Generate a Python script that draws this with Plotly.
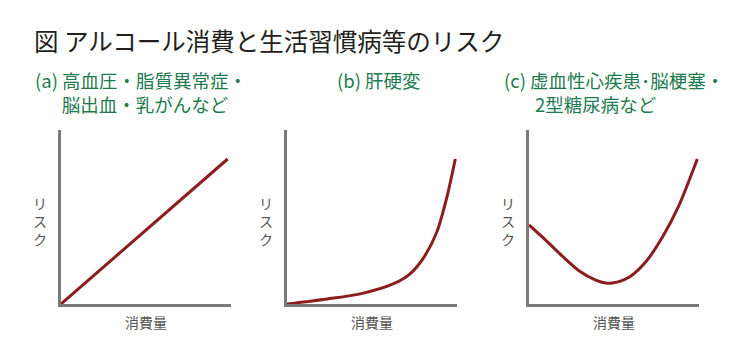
import plotly.graph_objects as go

W, H = 752, 362

# ---- data (arbitrary units) ----
consumption_a = [0, 10]
risk_a = [0, 10]

consumption_b = [0, 2.4, 4.4, 6.4, 7.4, 8.2, 9.0, 9.6, 10.1]
risk_b = [0, 0.35, 0.7, 1.4, 2.1, 3.2, 5.0, 7.4, 10.0]

consumption_c = [0, 1, 2, 3, 4, 4.6, 5, 6, 7, 8, 9, 10, 10.1]
risk_c = [5.45, 4.4, 3.3, 2.3, 1.65, 1.45, 1.45, 1.85, 2.9, 4.6, 6.8, 9.7, 10.0]

main_title = "図 アルコール消費と生活習慣病等のリスク"
sub_a = ["(a) 高血圧・脂質異常症・", "脳出血・乳がんなど"]
sub_b = ["(b) 肝硬変"]
sub_c = ["(c) 虚血性心疾患･脳梗塞・", "2型糖尿病など"]
x_label = "消費量"
y_label = "リスク"

# ---- style ----
FONT = "Noto Sans CJK JP"
LINE_COLOR = "#8b1d1d"
AXIS_COLOR = "#7a7a7a"
GREEN = "#1e7b4f"
GRAY_TXT = "#555555"

def px_x(p):
    return p / W

def px_y(p):
    return (H - p) / H

panels = [
    (consumption_a, risk_a, 61, 231),
    (consumption_b, risk_b, 287, 457),
    (consumption_c, risk_c, 529, 699),
]
y_top, y_bot = 130, 304

fig = go.Figure()
layout = dict(
    width=W, height=H,
    margin=dict(l=0, r=0, t=0, b=0),
    paper_bgcolor="white", plot_bgcolor="white",
    showlegend=False,
    font=dict(family=FONT),
)
annotations = []
for i, (xs, ys, x0, x1) in enumerate(panels):
    sfx = "" if i == 0 else str(i + 1)
    fig.add_trace(go.Scatter(
        x=xs, y=ys, mode="lines",
        line=dict(color=LINE_COLOR, width=3, shape="spline", smoothing=0.8),
        xaxis="x" + sfx, yaxis="y" + sfx, hoverinfo="skip",
    ))
    layout["xaxis" + sfx] = dict(
        domain=[px_x(x0), px_x(x1)], range=[0, 10.2],
        showline=True, linecolor=AXIS_COLOR, linewidth=2.5,
        showgrid=False, zeroline=False, showticklabels=False, ticks="",
        anchor="y" + sfx, fixedrange=True,
    )
    layout["yaxis" + sfx] = dict(
        domain=[px_y(y_bot), px_y(y_top)], range=[0, 12],
        showline=True, linecolor=AXIS_COLOR, linewidth=2.5,
        showgrid=False, zeroline=False, showticklabels=False, ticks="",
        anchor="x" + sfx, fixedrange=True,
    )
    annotations.append(dict(
        text=x_label, x=px_x((x0 + x1) / 2), y=px_y(322),
        xref="paper", yref="paper", xanchor="center", yanchor="middle",
        showarrow=False, font=dict(size=14, color=GRAY_TXT, family=FONT),
    ))
    annotations.append(dict(
        text="<br>".join(list(y_label)), x=px_x(x0 - 21), y=px_y(221),
        xref="paper", yref="paper", xanchor="center", yanchor="middle",
        showarrow=False, font=dict(size=14, color=GRAY_TXT, family=FONT),
    ))

annotations.append(dict(
    text=main_title, x=px_x(32), y=px_y(41),
    xref="paper", yref="paper", xanchor="left", yanchor="middle",
    showarrow=False, font=dict(size=24.5, color="#231f20", family=FONT),
))

# subtitles: second line indented with an ideographic space + no-break spaces
sub_specs = [
    (sub_a, 33, "\u3000\u00a0\u00a0"),
    (sub_b, 335, ""),
    (sub_c, 502, "\u3000\u00a0\u00a0\u00a0"),
]
for lines, xl, indent in sub_specs:
    if len(lines) > 1:
        txt = lines[0] + "<br>" + indent + lines[1]
        yc = 92
    else:
        txt = lines[0]
        yc = 80
    annotations.append(dict(
        text=txt, x=px_x(xl), y=px_y(yc), align="left",
        xref="paper", yref="paper", xanchor="left", yanchor="middle",
        showarrow=False, font=dict(size=18.5, color=GREEN, family=FONT),
    ))

layout["annotations"] = annotations
fig.update_layout(**layout)
fig.write_html(
    "out.html",
    config={"displayModeBar": False},
    post_script="document.body.style.margin='0';document.body.style.padding='0';",
)
